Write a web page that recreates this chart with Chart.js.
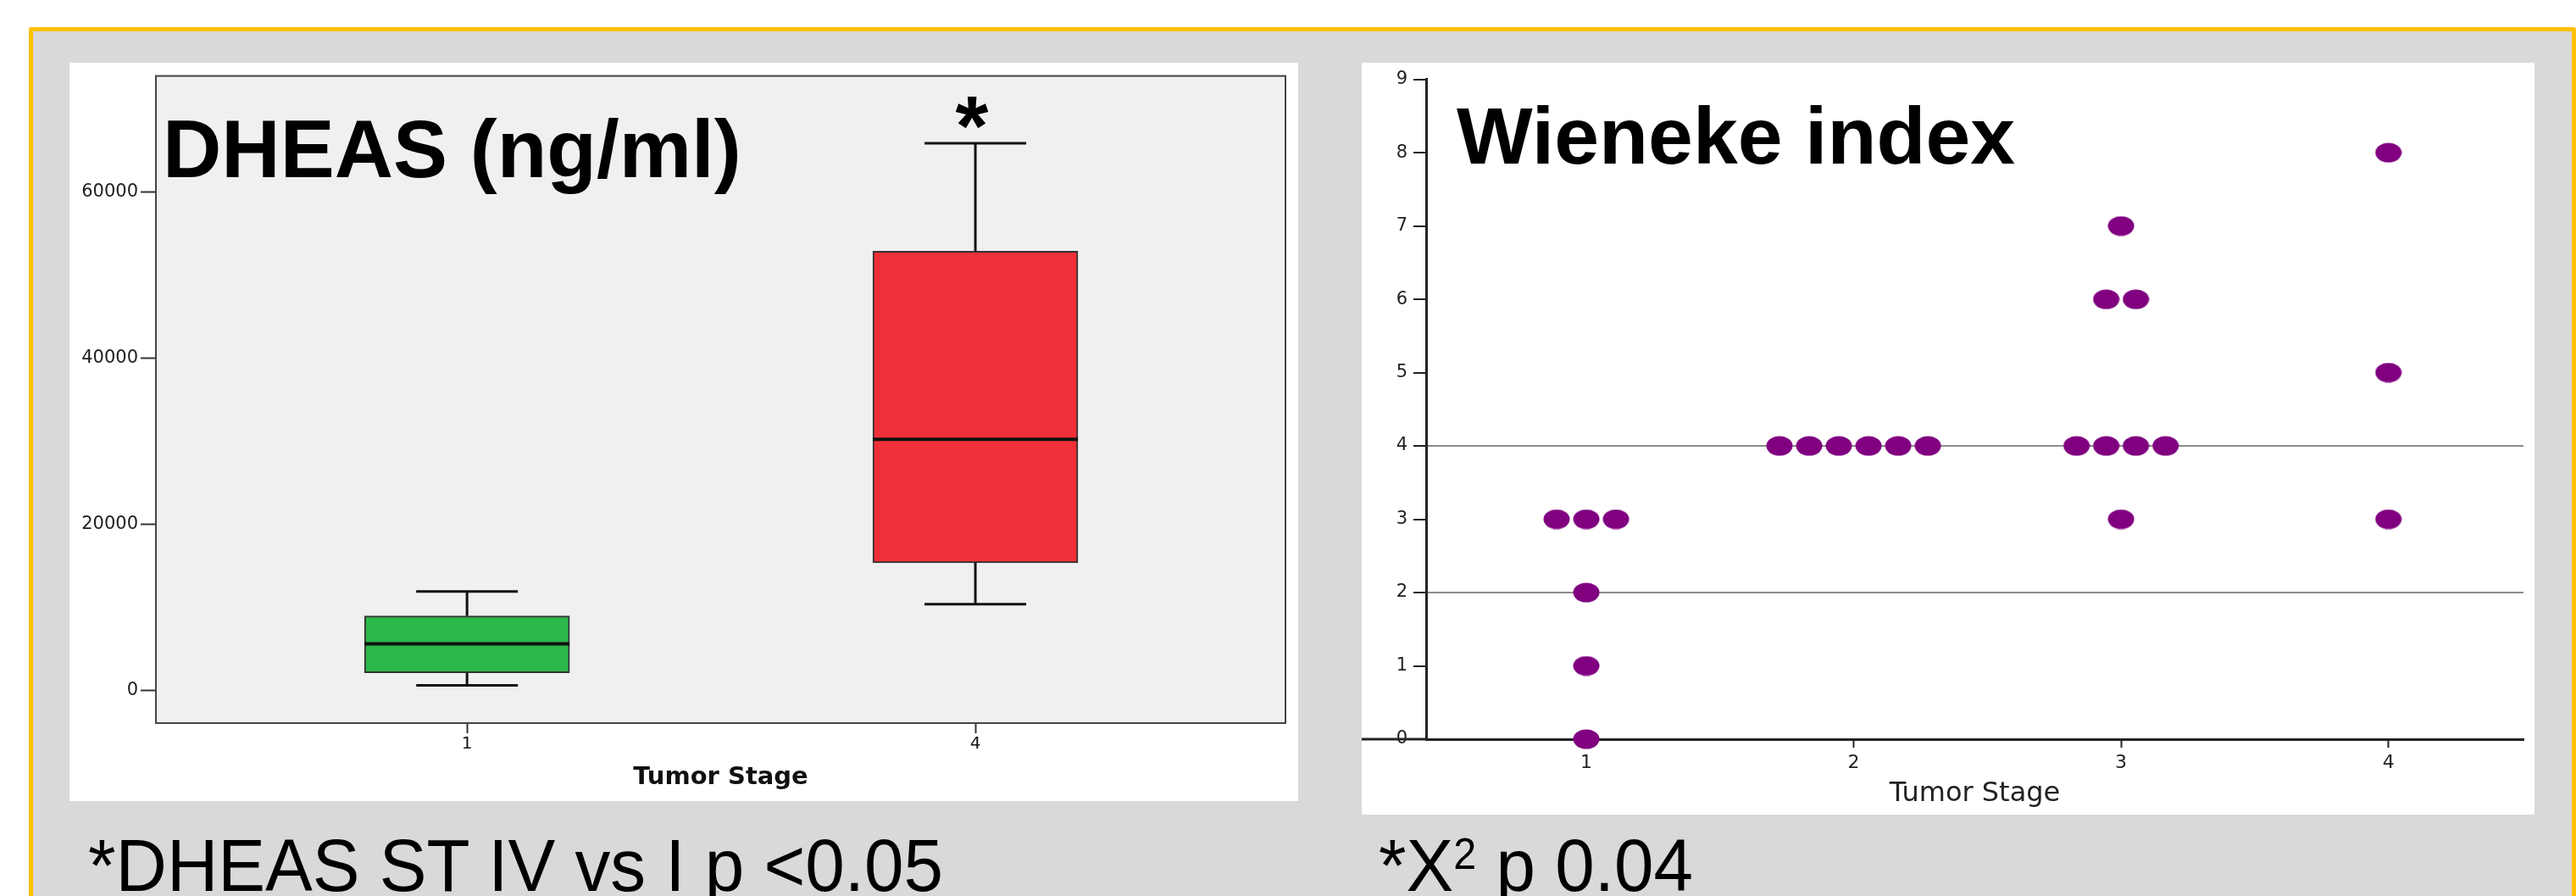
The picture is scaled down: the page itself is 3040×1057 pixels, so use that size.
<!DOCTYPE html>
<html><head><meta charset="utf-8">
<script src="https://cdn.jsdelivr.net/npm/chart.js@4.4.1/dist/chart.umd.min.js"></script>
<style>
html,body{margin:0;padding:0;background:#fff;width:3040px;height:1057px;overflow:hidden;position:relative;}
#frame{position:absolute;left:34px;top:32px;width:3006px;height:1100px;box-sizing:border-box;border:5px solid #ffc000;background:#d9d9d9;border-radius:3px;}
.panel{position:absolute;background:#fff;}
#p1{left:82px;top:74px;width:1450px;height:871px;}
#p2{left:1607px;top:74px;width:1384px;height:887px;}
.txt{position:absolute;white-space:nowrap;line-height:1;color:#000;font-family:"Liberation Sans",Arial,sans-serif;}
.bold{font-weight:bold;}
#t1{left:192px;top:128px;font-size:96px;}
#star{left:1047px;width:200px;text-align:center;top:98px;font-size:100px;}
#t2{left:1719px;top:113px;font-size:95px;}
#c1{left:104px;top:977px;font-size:88px;transform:scaleX(0.95);transform-origin:0 0;}
#c2{left:1627px;top:977px;font-size:88px;transform:scaleX(0.95);transform-origin:0 0;}
#c2 .sup{position:relative;top:-26px;font-size:51px;}
</style>
</head>
<body>
<div id="frame"></div>
<div class="panel" id="p1"><canvas id="chart1" width="1450" height="871"></canvas></div>
<div class="panel" id="p2"><canvas id="chart2" width="1384" height="887"></canvas></div>
<div class="txt bold" id="t1">DHEAS (ng/ml)</div>
<div class="txt bold" id="star">*</div>
<div class="txt bold" id="t2">Wieneke index</div>
<div class="txt" id="c1">*DHEAS ST IV vs I p &lt;0.05</div>
<div class="txt" id="c2">*X<span class="sup">2</span> p 0.04</div>
<script>
// ---------- DHEAS box plot data ----------
const dheasStages = ['1', '4'];
const dheasPos = [0, 1];
const dheasMin = [650, 10400];
const dheasQ1 = [2150, 15400];
const dheasMedian = [5650, 30250];
const dheasQ3 = [9000, 52900];
const dheasMax = [11950, 65900];
const dheasColors = ['#2db84b', '#ef3039'];
const dheasYTicks = [0, 20000, 40000, 60000];

// ---------- Wieneke index dot plot data ----------
const wienekeStages = [1, 2, 3, 4];
const wienekeStage1 = [3, 3, 3, 2, 1, 0];
const wienekeStage2 = [4, 4, 4, 4, 4, 4];
const wienekeStage3 = [7, 6, 6, 4, 4, 4, 4, 3];
const wienekeStage4 = [8, 5, 3];
const wienekeYTicks = [0, 1, 2, 3, 4, 5, 6, 7, 8, 9];
const wienekeRefLines = [2, 4];

Chart.defaults.font.family = '"DejaVu Sans", sans-serif';
Chart.defaults.color = '#222';
Chart.defaults.animation = false;

// ---------- chart 1 ----------
const BOX_HALF = 0.2017, CAP_HALF = 0.1;
const segDatasets = [];
function seg(points, width) {
  segDatasets.push({type: 'line', data: points, borderColor: '#111', borderWidth: width,
    pointRadius: 0, fill: false, order: 0, borderCapStyle: 'butt', clip: false});
}
dheasPos.forEach((x, i) => {
  seg([{x: x, y: dheasQ3[i]}, {x: x, y: dheasMax[i]}], 3);
  seg([{x: x, y: dheasQ1[i]}, {x: x, y: dheasMin[i]}], 3);
  seg([{x: x - CAP_HALF, y: dheasMax[i]}, {x: x + CAP_HALF, y: dheasMax[i]}], 3);
  seg([{x: x - CAP_HALF, y: dheasMin[i]}, {x: x + CAP_HALF, y: dheasMin[i]}], 3);
  seg([{x: x - BOX_HALF, y: dheasMedian[i]}, {x: x + BOX_HALF, y: dheasMedian[i]}], 4);
});

const plotBg = {
  id: 'plotBg',
  beforeDraw(chart) {
    const a = chart.chartArea, c = chart.ctx;
    c.save(); c.fillStyle = '#f0f0f0'; c.fillRect(a.left, a.top, a.right - a.left, a.bottom - a.top); c.restore();
  },
  beforeDatasetsDraw(chart) {
    const a = chart.chartArea, c = chart.ctx;
    c.save(); c.strokeStyle = '#444'; c.lineWidth = 2;
    c.strokeRect(a.left, a.top, a.right - a.left, a.bottom - a.top); c.restore();
  }
};

new Chart(document.getElementById('chart1'), {
  type: 'bar',
  data: {
    datasets: [{
      type: 'bar',
      data: dheasPos.map((x, i) => ({x: x, y: [dheasQ1[i], dheasQ3[i]]})),
      backgroundColor: dheasColors,
      borderColor: '#333', borderWidth: 2, borderSkipped: false,
      barThickness: 242, order: 2
    }].concat(segDatasets)
  },
  options: {
    responsive: false,
    layout: {padding: {top: 8, right: 15, left: 0, bottom: 0}},
    plugins: {legend: {display: false}, tooltip: {enabled: false}},
    scales: {
      x: {
        type: 'linear', min: -0.612, max: 1.61, offset: false,
        afterBuildTicks: s => { s.ticks = dheasPos.map(v => ({value: v})); },
        ticks: {callback: v => dheasStages[dheasPos.indexOf(v)], font: {size: 20}, color: '#111', padding: 1, maxRotation: 0, autoSkip: false},
        grid: {offset: false, drawOnChartArea: false, tickLength: 12, tickColor: '#333', tickWidth: 2},
        border: {color: '#444', width: 2},
        title: {display: true, text: 'Tumor Stage', font: {size: 29, weight: 'bold'}, color: '#111', padding: {top: 0, bottom: 10}},
        afterFit: s => { s.height = 92; }
      },
      y: {
        type: 'linear', min: -3900, max: 74000,
        afterBuildTicks: s => { s.ticks = dheasYTicks.map(v => ({value: v})); },
        ticks: {callback: v => String(v), font: {size: 21}, color: '#222', padding: 3},
        grid: {drawOnChartArea: false, tickLength: 18, tickColor: '#333', tickWidth: 2},
        border: {color: '#444', width: 2},
        afterFit: s => { s.width = 102; }
      }
    }
  },
  plugins: [plotBg]
});

// ---------- chart 2 ----------
const DOT_SPACING = 0.111;
function dotPositions(stage, values) {
  const counts = {}, seen = {};
  values.forEach(v => { counts[v] = (counts[v] || 0) + 1; });
  return values.map(v => {
    const n = counts[v], i = (seen[v] = (seen[v] || 0)); seen[v]++;
    return {x: stage + (i - (n - 1) / 2) * DOT_SPACING, y: v};
  });
}
const wienekeAll = [wienekeStage1, wienekeStage2, wienekeStage3, wienekeStage4];
const dots = [];
wienekeAll.forEach((vals, k) => { dotPositions(wienekeStages[k], vals).forEach(p => dots.push(p)); });

const dotImg = document.createElement('canvas');
dotImg.width = 32; dotImg.height = 24;
(function () {
  const c = dotImg.getContext('2d');
  c.fillStyle = '#800080';
  c.beginPath(); c.ellipse(16, 12, 15.5, 11.5, 0, 0, Math.PI * 2); c.fill();
})();

const axisExt = {
  id: 'axisExt',
  afterDraw(chart) {
    const c = chart.ctx, y0 = chart.scales.y.getPixelForValue(0);
    c.save(); c.strokeStyle = '#222'; c.lineWidth = 3;
    c.beginPath(); c.moveTo(0, y0); c.lineTo(chart.chartArea.left, y0); c.stroke(); c.restore();
  }
};

new Chart(document.getElementById('chart2'), {
  type: 'scatter',
  data: {
    datasets: [{
      data: dots, pointStyle: dotImg, pointRadius: 12, clip: false,
      backgroundColor: '#800080', borderColor: '#800080'
    }]
  },
  options: {
    responsive: false,
    layout: {padding: {top: 16, right: 0, left: 0, bottom: 0}},
    plugins: {legend: {display: false}, tooltip: {enabled: false}},
    scales: {
      x: {
        type: 'linear', min: 0.401, max: 4.505,
        afterBuildTicks: s => { s.ticks = wienekeStages.map(v => ({value: v})); },
        ticks: {callback: v => String(v), font: {size: 22}, color: '#222', padding: 5, maxRotation: 0, autoSkip: false},
        grid: {drawOnChartArea: false, tickLength: 10, tickColor: '#222', tickWidth: 2},
        border: {color: '#222', width: 3},
        title: {display: true, text: 'Tumor Stage', font: {size: 32}, color: '#222', padding: {top: 0, bottom: 5}},
        afterFit: s => { s.height = 89; }
      },
      y: {
        type: 'linear', min: 0, max: 9,
        afterBuildTicks: s => { s.ticks = wienekeYTicks.map(v => ({value: v})); },
        ticks: {callback: v => String(v), font: {size: 21}, color: '#222', padding: 7},
        grid: {
          color: ctx => (ctx.tick && wienekeRefLines.includes(ctx.tick.value)) ? '#8c8c8c' : 'rgba(0,0,0,0)',
          lineWidth: 2, tickLength: 15, tickColor: '#222', tickWidth: 2
        },
        border: {color: '#222', width: 3},
        afterFit: s => { s.width = 76; }
      }
    }
  },
  plugins: [axisExt]
});
</script>
</body></html>
